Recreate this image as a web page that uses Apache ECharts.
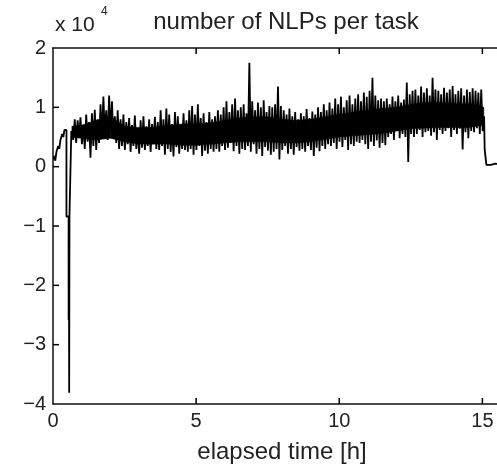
<!DOCTYPE html>
<html>
<head>
<meta charset="utf-8">
<script src="https://cdn.jsdelivr.net/npm/echarts@6/dist/echarts.min.js"></script>
<style>html,body{margin:0;padding:0;background:#fff;}#c{width:497px;height:470px;}</style>
</head>
<body>
<div id="c"></div>
<script>
// ---- data (values in units of 1e4 NLPs) ----
var titleText = 'number of NLPs per task';
var xLabel = 'elapsed time [h]';
var xTicks = [0, 5, 10, 15];
var yTicks = [-4, -3, -2, -1, 0, 1, 2];

// start-up phase: [time h, value]
var startTimes  = [0.02, 0.05, 0.08, 0.12, 0.18, 0.22, 0.26, 0.32, 0.36, 0.40, 0.44, 0.47, 0.47, 0.545, 0.545, 0.555, 0.555, 0.565, 0.565, 0.575, 0.575, 0.64, 0.64];
var startValues = [0.12, 0.18, 0.10, 0.25, 0.35, 0.30, 0.45, 0.55, 0.50, 0.62, 0.65, 0.62, -0.84, -0.84, -2.58, -2.58, -0.84, -0.84, -3.81, -3.81, -0.84, -0.84, 0.60];

// main noisy phase, sampled every 0.05 h starting at 0.66 h
var noiseStart = 0.66;
var noiseStep = 0.05;
var noiseValues = [
  0.62,0.45,0.80,0.40,0.78,0.48,0.83,0.38,0.70,0.30,0.88,0.42,0.75,0.15,0.90,0.35,0.96,0.28,0.80,0.40,
  1.05,0.50,1.18,0.55,0.95,0.45,1.20,0.60,1.10,0.48,0.85,0.40,0.95,0.30,0.80,0.35,0.88,0.28,0.75,0.38,
  0.82,0.25,0.70,0.35,0.86,0.30,0.65,0.22,0.78,0.32,0.85,0.28,0.68,0.35,0.80,0.25,0.72,0.38,0.84,0.30,
  0.75,0.28,0.95,0.35,0.80,0.20,0.98,0.30,0.88,0.25,0.72,0.17,0.92,0.33,0.85,0.22,0.70,0.30,0.90,0.28,
  0.78,0.25,0.95,0.30,1.02,0.20,0.88,0.28,1.05,0.35,0.82,0.18,0.90,0.27,0.75,0.22,0.92,0.30,0.80,0.25,
  0.85,0.30,0.95,0.25,0.88,0.35,1.00,0.28,1.10,0.32,0.92,0.40,1.05,0.26,1.15,0.35,0.95,0.22,1.00,0.30,
  1.05,0.28,0.90,0.35,1.75,0.25,1.10,0.38,0.95,0.22,1.08,0.30,1.00,0.18,1.12,0.33,0.92,0.27,1.02,0.20,
  1.00,0.25,1.05,0.30,1.35,0.12,1.02,0.28,0.95,0.35,0.88,0.22,0.98,0.30,0.85,0.20,0.92,0.33,0.80,0.27,
  0.90,0.30,0.85,0.25,0.97,0.35,0.82,0.28,0.93,0.18,0.88,0.32,1.00,0.26,0.92,0.35,1.05,0.30,0.95,0.38,
  1.08,0.35,0.98,0.40,1.15,0.30,1.05,0.42,1.18,0.33,1.00,0.45,1.12,0.28,1.20,0.38,1.05,0.35,1.15,0.42,
  1.22,0.40,1.10,0.45,1.25,0.38,1.18,0.30,1.28,0.42,1.50,0.35,1.20,0.44,1.12,0.32,1.15,0.40,1.10,0.36,
  1.15,0.50,1.05,0.55,1.18,0.45,1.10,0.60,1.20,0.48,1.08,0.55,1.13,0.50,1.42,0.08,1.22,0.55,1.28,0.50,
  1.30,0.55,1.20,0.62,1.35,0.50,1.25,0.58,1.32,0.60,1.20,0.52,1.50,0.58,1.30,0.45,1.28,0.62,1.22,0.55,
  1.33,0.60,1.25,0.65,1.30,0.50,1.36,0.62,1.22,0.55,1.28,0.64,1.32,0.29,1.20,0.58,1.30,0.48,1.26,0.60,
  1.32,0.58,1.28,0.65,1.25,0.55,1.30,0.60,0.85
];

// dense core of the noisy band (where the trace is solid black)
var coreTimes = [0.66, 1.0, 1.5, 2.0, 2.5, 3.0, 3.5, 4.0, 4.5, 5.0, 5.5, 6.0, 6.5, 7.0, 7.5, 8.0, 8.5, 9.0, 9.5, 10.0, 10.5, 11.0, 11.5, 12.0, 12.5, 13.0, 13.5, 14.0, 14.5, 15.05];
var coreLow   = [0.50, 0.48, 0.45, 0.48, 0.42, 0.38, 0.38, 0.38, 0.36, 0.36, 0.38, 0.40, 0.42, 0.42, 0.42, 0.40, 0.40, 0.42, 0.46, 0.50, 0.52, 0.54, 0.56, 0.60, 0.64, 0.65, 0.66, 0.66, 0.66, 0.70];
var coreHigh  = [0.68, 0.70, 0.78, 0.85, 0.68, 0.66, 0.66, 0.70, 0.72, 0.72, 0.74, 0.78, 0.82, 0.84, 0.84, 0.80, 0.78, 0.80, 0.84, 0.88, 0.92, 0.95, 0.98, 1.00, 1.05, 1.08, 1.08, 1.06, 1.06, 1.00];

// end phase
var endTimes  = [15.08, 15.13, 15.14, 15.30, 15.35, 15.45, 15.50, 15.80, 15.95];
var endValues = [0.29, 0.29, 0.03, 0.03, 0.05, 0.05, 0.03, 0.03, 0.04];

// ---- build series data ----
var X_MIN = 0, X_MAX = 16;
var Y_MIN = yTicks[0], Y_MAX = yTicks[yTicks.length - 1];
var seriesData = [];
for (var i = 0; i < startTimes.length; i++) seriesData.push([startTimes[i], startValues[i]]);
for (var j = 0; j < noiseValues.length; j++) seriesData.push([Math.round((noiseStart + j * noiseStep) * 1000) / 1000, noiseValues[j]]);
for (var k = 0; k < endTimes.length; k++) seriesData.push([endTimes[k], endValues[k]]);

var coreData = [];
for (var m = 0; m < coreTimes.length; m++) coreData.push([coreTimes[m], coreLow[m], coreHigh[m]]);

// tick mark positions (inward ticks, MATLAB style), placed via the axis scales
var xTickData = xTicks.filter(function (v) { return v > X_MIN; }).map(function (v) { return [v, Y_MIN]; });
var yTickData = yTicks.filter(function (v) { return v > Y_MIN && v < Y_MAX; }).map(function (v) { return [X_MIN, v]; });

var FONT = '"Liberation Sans", Arial, Helvetica, sans-serif';
var AX = '#111';
var TXT = '#222';
var TICK_LEN = 6;
var chart = echarts.init(document.getElementById('c'), null, {renderer: 'canvas'});
function axisLineOpt() { return {show: true, onZero: false, lineStyle: {color: AX, width: 1.5}}; }
chart.setOption({
  animation: false,
  backgroundColor: '#fff',
  title: {
    text: titleText, left: 281, top: 5, textAlign: 'center',
    textStyle: {fontFamily: FONT, fontSize: 24, fontWeight: 'normal', color: TXT}
  },
  graphic: [
    {type: 'text', left: 55, top: 15, style: {text: 'x 10', font: '21px ' + FONT, fill: TXT}},
    {type: 'text', left: 101, top: 6, style: {text: '4', font: '12px ' + FONT, fill: TXT}}
  ],
  grid: {left: 53, width: 458, top: 48, bottom: 66, containLabel: false, outerBoundsMode: 'none'},
  xAxis: [
    {
      type: 'value', position: 'bottom', min: X_MIN, max: X_MAX, interval: 5,
      axisLine: axisLineOpt(), axisTick: {show: false}, splitLine: {show: false},
      name: xLabel, nameLocation: 'middle', nameGap: 36,
      nameTextStyle: {fontFamily: FONT, fontSize: 24, color: TXT},
      axisLabel: {show: true, margin: 7, fontFamily: FONT, fontSize: 20, color: TXT,
        formatter: function (v) { return xTicks.indexOf(v) >= 0 ? String(v) : ''; }}
    },
    {
      type: 'value', position: 'top', min: X_MIN, max: X_MAX, interval: 5,
      axisLine: axisLineOpt(), axisTick: {show: false}, splitLine: {show: false},
      axisLabel: {show: false}
    }
  ],
  yAxis: [
    {
      type: 'value', position: 'left', min: Y_MIN, max: Y_MAX, interval: 1,
      axisLine: axisLineOpt(), axisTick: {show: false}, splitLine: {show: false},
      axisLabel: {show: true, margin: 7, fontFamily: FONT, fontSize: 20, color: TXT,
        formatter: function (v) { return v < 0 ? '\u2212' + Math.abs(v) : String(v); }}
    }
  ],
  series: [
    {
      type: 'custom', xAxisIndex: 0, yAxisIndex: 0, silent: true, clip: false, z: 5,
      data: xTickData, encode: {x: 0, y: 1},
      renderItem: function (params, api) {
        var v = api.value(0);
        var pb = api.coord([v, Y_MIN]), pt = api.coord([v, Y_MAX]);
        var st = {stroke: '#000', lineWidth: 1.5};
        return {type: 'group', children: [
          {type: 'line', shape: {x1: pb[0], y1: pb[1], x2: pb[0], y2: pb[1] - TICK_LEN}, style: st},
          {type: 'line', shape: {x1: pt[0], y1: pt[1], x2: pt[0], y2: pt[1] + TICK_LEN}, style: st}
        ]};
      }
    },
    {
      type: 'custom', xAxisIndex: 0, yAxisIndex: 0, silent: true, clip: false, z: 5,
      data: yTickData, encode: {x: 0, y: 1},
      renderItem: function (params, api) {
        var p = api.coord([X_MIN, api.value(1)]);
        return {type: 'line', shape: {x1: p[0], y1: p[1], x2: p[0] + TICK_LEN, y2: p[1]}, style: {stroke: '#000', lineWidth: 1.5}};
      }
    },
    {
      type: 'custom', xAxisIndex: 0, yAxisIndex: 0, silent: true,
      data: coreData,
      encode: {x: 0, y: [1, 2]},
      renderItem: function (params, api) {
        var idx = params.dataIndex;
        if (idx >= coreData.length - 1) return null;
        var a = coreData[idx], b = coreData[idx + 1];
        var p1 = api.coord([a[0], a[1]]), p2 = api.coord([b[0], b[1]]);
        var p3 = api.coord([b[0], b[2]]), p4 = api.coord([a[0], a[2]]);
        return {type: 'polygon', shape: {points: [p1, p2, p3, p4]}, style: {fill: '#000', stroke: '#000', lineWidth: 0.5}};
      }
    },
    {
      type: 'line', xAxisIndex: 0, yAxisIndex: 0, data: seriesData,
      showSymbol: false, symbol: 'none', sampling: null, silent: true,
      lineStyle: {color: '#000', width: 1.8}
    }
  ]
});
</script>
</body>
</html>
